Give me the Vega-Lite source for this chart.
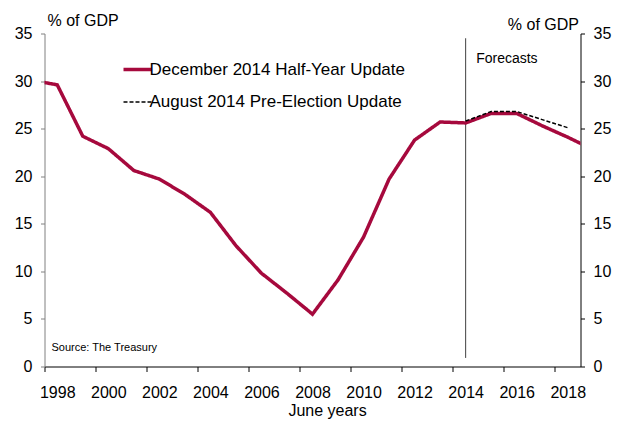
{
  "$schema": "https://vega.github.io/schema/vega-lite/v6.json",
  "width": 536,
  "height": 333,
  "autosize": {"type": "none"},
  "padding": {"left": 44.5, "top": 33.5, "right": 36.5, "bottom": 54.5},
  "config": {
    "view": {"stroke": null},
    "font": "Liberation Sans",
    "axis": {
      "labelFont": "Liberation Sans",
      "titleFont": "Liberation Sans",
      "labelFontSize": 16,
      "titleFontSize": 16,
      "titleFontWeight": "normal",
      "labelColor": "#000000",
      "titleColor": "#000000",
      "domainColor": "#000000",
      "tickColor": "#000000",
      "grid": false
    },
    "text": {"font": "Liberation Sans"}
  },
  "data": {
    "values": [
      {"year": 1997, "value": 30.1, "series": "December 2014 Half-Year Update"},
      {"year": 1998, "value": 29.6, "series": "December 2014 Half-Year Update"},
      {"year": 1999, "value": 24.2, "series": "December 2014 Half-Year Update"},
      {"year": 2000, "value": 22.9, "series": "December 2014 Half-Year Update"},
      {"year": 2001, "value": 20.6, "series": "December 2014 Half-Year Update"},
      {"year": 2002, "value": 19.7, "series": "December 2014 Half-Year Update"},
      {"year": 2003, "value": 18.1, "series": "December 2014 Half-Year Update"},
      {"year": 2004, "value": 16.2, "series": "December 2014 Half-Year Update"},
      {"year": 2005, "value": 12.7, "series": "December 2014 Half-Year Update"},
      {"year": 2006, "value": 9.8, "series": "December 2014 Half-Year Update"},
      {"year": 2007, "value": 7.7, "series": "December 2014 Half-Year Update"},
      {"year": 2008, "value": 5.5, "series": "December 2014 Half-Year Update"},
      {"year": 2009, "value": 9.1, "series": "December 2014 Half-Year Update"},
      {"year": 2010, "value": 13.6, "series": "December 2014 Half-Year Update"},
      {"year": 2011, "value": 19.7, "series": "December 2014 Half-Year Update"},
      {"year": 2012, "value": 23.8, "series": "December 2014 Half-Year Update"},
      {"year": 2013, "value": 25.7, "series": "December 2014 Half-Year Update"},
      {"year": 2014, "value": 25.6, "series": "December 2014 Half-Year Update"},
      {"year": 2015, "value": 26.6, "series": "December 2014 Half-Year Update"},
      {"year": 2016, "value": 26.6, "series": "December 2014 Half-Year Update"},
      {"year": 2017, "value": 25.3, "series": "December 2014 Half-Year Update"},
      {"year": 2018, "value": 24.1, "series": "December 2014 Half-Year Update"},
      {"year": 2019, "value": 22.8, "series": "December 2014 Half-Year Update"},
      {"year": 2014, "value": 25.8, "series": "August 2014 Pre-Election Update"},
      {"year": 2015, "value": 26.8, "series": "August 2014 Pre-Election Update"},
      {"year": 2016, "value": 26.8, "series": "August 2014 Pre-Election Update"},
      {"year": 2017, "value": 25.95, "series": "August 2014 Pre-Election Update"},
      {"year": 2018, "value": 25.1, "series": "August 2014 Pre-Election Update"}
    ]
  },
  "layer": [
    {
      "data": {"values": [{}]},
      "mark": {"type": "rule", "color": "#404040", "strokeWidth": 1},
      "encoding": {
        "x": {"datum": 2014, "type": "quantitative"},
        "y": {"datum": 0.9, "type": "quantitative", "axis": null},
        "y2": {"datum": 34.5}
      }
    },
    {
      "mark": {"type": "line", "clip": true, "strokeCap": "butt", "strokeJoin": "miter"},
      "encoding": {
        "x": {
          "field": "year", "type": "quantitative",
          "scale": {"domain": [1997.5, 2018.5], "nice": false, "zero": false},
          "axis": {
            "values": [1998, 2000, 2002, 2004, 2006, 2008, 2010, 2012, 2014, 2016, 2018],
            "format": "d",
            "tickOffset": -12.76,
            "labelOffset": 12.76,
            "tickSize": 5,
            "labelPadding": 13,
            "title": "June years",
            "titleX": 282.5,
            "titleY": 49,
            "titleAlign": "center",
            "titleBaseline": "alphabetic"
          }
        },
        "y": {
          "field": "value", "type": "quantitative",
          "scale": {"domain": [0, 35], "nice": false},
          "axis": {
            "orient": "left",
            "values": [0, 5, 10, 15, 20, 25, 30, 35],
            "tickSize": 4,
            "labelPadding": 8.5,
            "domainColor": "#808080",
            "tickColor": "#808080",
            "title": "% of GDP",
            "titleAngle": 0,
            "titleAlign": "left",
            "titleBaseline": "alphabetic",
            "titleX": 2.5,
            "titleY": -8.5
          }
        },
        "color": {
          "field": "series", "type": "nominal",
          "scale": {"domain": ["December 2014 Half-Year Update", "August 2014 Pre-Election Update"], "range": ["#A6093D", "#000000"]},
          "legend": {
            "title": null,
            "orient": "none",
            "legendX": 77,
            "legendY": 20,
            "padding": 0,
            "symbolType": "stroke",
            "symbolSize": 784,
            "labelFont": "Liberation Sans",
            "labelFontSize": 17,
            "labelColor": "#000000",
            "labelOffset": -4,
            "labelLimit": 400,
            "rowPadding": 9.5
          }
        },
        "strokeDash": {
          "field": "series", "type": "nominal",
          "scale": {"domain": ["December 2014 Half-Year Update", "August 2014 Pre-Election Update"], "range": [[1, 0], [4, 2]]},
          "legend": {
            "title": null,
            "orient": "none",
            "legendX": 77,
            "legendY": 20,
            "padding": 0,
            "symbolType": "stroke",
            "symbolSize": 784,
            "labelFont": "Liberation Sans",
            "labelFontSize": 17,
            "labelColor": "#000000",
            "labelOffset": -4,
            "labelLimit": 400,
            "rowPadding": 9.5
          }
        },
        "strokeWidth": {
          "field": "series", "type": "nominal",
          "scale": {"domain": ["December 2014 Half-Year Update", "August 2014 Pre-Election Update"], "range": [3.5, 1.5]},
          "legend": {
            "title": null,
            "orient": "none",
            "legendX": 77,
            "legendY": 20,
            "padding": 0,
            "symbolType": "stroke",
            "symbolSize": 784,
            "labelFont": "Liberation Sans",
            "labelFontSize": 17,
            "labelColor": "#000000",
            "labelOffset": -4,
            "labelLimit": 400,
            "rowPadding": 9.5
          }
        }
      }
    },
    {
      "mark": {"type": "line", "opacity": 0, "clip": true},
      "encoding": {
        "x": {"field": "year", "type": "quantitative"},
        "y": {
          "field": "value", "type": "quantitative",
          "scale": {"domain": [0, 35], "nice": false},
          "axis": {
            "orient": "right",
            "values": [0, 5, 10, 15, 20, 25, 30, 35],
            "tickSize": 4,
            "labelPadding": 8.5,
            "title": "% of GDP",
            "titleAngle": 0,
            "titleAlign": "right",
            "titleBaseline": "alphabetic",
            "titleX": -2,
            "titleY": -4.5
          }
        },
        "detail": {"field": "series"}
      }
    },
    {
      "data": {"values": [{}]},
      "mark": {"type": "text", "text": "Forecasts", "fontSize": 14, "align": "left", "baseline": "alphabetic", "dx": 10.5, "color": "#000000"},
      "encoding": {
        "x": {"datum": 2014, "type": "quantitative"},
        "y": {"datum": 31.9, "type": "quantitative", "axis": null}
      }
    },
    {
      "data": {"values": [{}]},
      "mark": {"type": "text", "text": "Source: The Treasury", "fontSize": 11, "align": "left", "baseline": "alphabetic", "dx": 7, "color": "#000000"},
      "encoding": {
        "x": {"datum": 1997.5, "type": "quantitative"},
        "y": {"datum": 1.65, "type": "quantitative", "axis": null}
      }
    }
  ],
  "resolve": {"axis": {"y": "independent"}}
}
